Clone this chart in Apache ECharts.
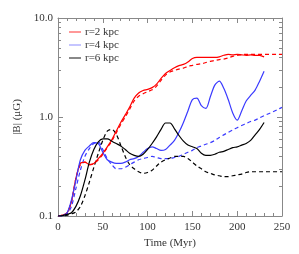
<!DOCTYPE html>
<html><head><meta charset="utf-8">
<script src="https://cdn.jsdelivr.net/npm/echarts@6/dist/echarts.min.js"></script>
<style>html,body{margin:0;padding:0;background:#fff}#c{width:299px;height:254px}</style>
</head><body><div id="c"></div>
<script>
const timeSolid = [0,5,10,15,20,25,30,35,40,45,50,55,60,65,70,75,80,85,90,95,100,105,110,115,120,125,130,135,140,145,150,155,160,165,170,175,180,185,190,195,200,205,210,215,220,225,230];
const timeDashed = [0,5,10,15,20,25,30,35,40,45,50,55,60,65,70,75,80,85,90,95,100,105,110,115,120,125,130,135,140,145,150,155,160,165,170,175,180,185,190,195,200,205,210,215,220,225,230,235,240,245,250];

const r2Solid = [0.100,0.102,0.107,0.14,0.24,0.34,0.35,0.33,0.34,0.38,0.43,0.50,0.59,0.72,0.88,1.05,1.26,1.55,1.75,1.85,1.90,1.98,2.15,2.45,2.75,2.95,3.15,3.3,3.4,3.6,3.9,4.0,4.0,4.0,4.0,4.0,4.05,4.2,4.3,4.25,4.3,4.25,4.2,4.25,4.2,4.2,4.05];
const r2Dashed = [0.100,0.102,0.107,0.14,0.24,0.33,0.35,0.33,0.34,0.37,0.42,0.49,0.57,0.69,0.84,1.0,1.2,1.45,1.62,1.72,1.8,1.88,2.05,2.35,2.65,2.85,2.95,3.05,3.12,3.25,3.32,3.4,3.45,3.55,3.65,3.72,3.8,3.85,3.95,4.1,4.2,4.25,4.3,4.3,4.3,4.3,4.3,4.3,4.3,4.3,4.3];
const r4Solid = [0.100,0.101,0.107,0.145,0.23,0.37,0.46,0.51,0.55,0.54,0.44,0.37,0.35,0.34,0.34,0.35,0.37,0.38,0.40,0.44,0.48,0.50,0.48,0.46,0.47,0.52,0.58,0.70,0.88,1.15,1.5,1.55,1.3,1.22,1.6,2.1,2.3,1.95,1.5,1.1,0.93,1.15,1.45,1.65,1.87,2.3,2.9];
const r4Dashed = [0.100,0.100,0.104,0.125,0.19,0.29,0.40,0.48,0.54,0.56,0.47,0.38,0.33,0.30,0.30,0.31,0.33,0.35,0.37,0.38,0.39,0.40,0.39,0.38,0.38,0.38,0.39,0.40,0.42,0.44,0.46,0.49,0.51,0.53,0.55,0.58,0.62,0.66,0.70,0.74,0.78,0.82,0.86,0.90,0.93,0.98,1.03,1.08,1.13,1.19,1.25];
const r6Solid = [0.100,0.101,0.104,0.108,0.125,0.16,0.23,0.35,0.47,0.56,0.60,0.60,0.57,0.54,0.51,0.47,0.43,0.41,0.40,0.42,0.47,0.54,0.63,0.75,0.87,0.87,0.76,0.65,0.57,0.52,0.50,0.48,0.43,0.41,0.41,0.42,0.44,0.45,0.47,0.49,0.50,0.52,0.54,0.58,0.66,0.75,0.88];
const r6Dashed = [0.100,0.100,0.102,0.105,0.11,0.125,0.16,0.22,0.31,0.43,0.58,0.72,0.75,0.67,0.52,0.40,0.33,0.30,0.28,0.27,0.275,0.29,0.32,0.35,0.37,0.385,0.40,0.40,0.40,0.38,0.35,0.32,0.30,0.28,0.27,0.26,0.255,0.25,0.25,0.255,0.26,0.265,0.275,0.28,0.28,0.28,0.28,0.28,0.28,0.28,0.28];

const seriesNames = ['r=2 kpc','r=4 kpc','r=6 kpc'];
const seriesColors = ['#ff0000','#3a3aff','#000000'];
const legendColors = ['#ff3030','#8a8aff','#111111'];
const yTickLabels = ['0.1','1.0','10.0'];
const yMinorTicks = [0.2,0.3,0.4,0.5,0.6,0.7,0.8,0.9,2,3,4,5,6,7,8,9];
const xName = 'Time (Myr)';
const yName = '|B| (\u03bcG)';

const font = 'Liberation Serif';
const txtColor = '#333';
const axColor = '#888';

function pairs(t, v){ return t.map((x,i)=>[x, v[i]]); }
function line(name, color, t, v, dashed, legColor){
  return {name, type:'line', data:pairs(t,v), smooth:0.3, symbol:'none', xAxisIndex:0, yAxisIndex:0,
    lineStyle:{color, width:1.2, type: dashed?[4,3]:'solid'}, itemStyle:{color: legColor || color}, z: dashed?2:3, silent:true};
}
function yAx(pos, major){
  const o = {type:'log', logBase:10, min:0.1, max:10, position:pos, splitLine:{show:false},
    axisLine:{show:major, lineStyle:{color:axColor, width:1}},
    axisTick:{show:true, inside:true, length: major?5:3, lineStyle:{color:axColor, width:1}},
    axisLabel:{show:false}};
  if(!major){ o.axisTick.customValues = yMinorTicks; }
  return o;
}
const chart = echarts.init(document.getElementById('c'));
chart.setOption({
  animation:false,
  backgroundColor:'#fff',
  grid:{left:58, right:17, top:18, bottom:38, containLabel:false},
  legend:{show:true, orient:'vertical', left:64, top:21, itemWidth:12, itemHeight:8, itemGap:1,
    data:seriesNames, icon:'path://M0,4L12,4L12,5L0,5Z',
    textStyle:{fontFamily:font, fontSize:11, color:txtColor, lineHeight:12, padding:[0,0,0,-1]}},
  xAxis:[
    {type:'value', min:0, max:250, interval:50, position:'bottom', splitLine:{show:false},
      axisLine:{show:true, lineStyle:{color:axColor}},
      axisTick:{inside:true, length:5, lineStyle:{color:axColor}},
      minorTick:{show:true, splitNumber:5, length:3, lineStyle:{color:axColor}},
      axisLabel:{fontFamily:font, fontSize:11, color:txtColor, margin:6},
      name:xName, nameLocation:'middle', nameGap:17, nameTextStyle:{fontFamily:font, fontSize:11, color:txtColor}},
    {type:'value', min:0, max:250, interval:50, position:'top', splitLine:{show:false},
      axisLine:{show:true, lineStyle:{color:axColor}},
      axisTick:{inside:true, length:5, lineStyle:{color:axColor}},
      minorTick:{show:true, splitNumber:5, length:3, lineStyle:{color:axColor}},
      axisLabel:{show:false}}
  ],
  yAxis:[
    Object.assign(yAx('left', true), {
      axisLabel:{show:true, fontFamily:font, fontSize:11, color:txtColor, margin:5,
        formatter: v => yTickLabels[Math.round(Math.log10(v))+1]},
      name:yName, nameLocation:'middle', nameGap:28, nameRotate:90,
      nameTextStyle:{fontFamily:font, fontSize:11, color:txtColor}}),
    yAx('left', false),
    yAx('right', true),
    yAx('right', false)
  ],
  series:[
    line(seriesNames[0], seriesColors[0], timeSolid, r2Solid, false, legendColors[0]),
    line(seriesNames[1], seriesColors[1], timeSolid, r4Solid, false, legendColors[1]),
    line(seriesNames[2], seriesColors[2], timeSolid, r6Solid, false, legendColors[2]),
    line(seriesNames[0], seriesColors[0], timeDashed, r2Dashed, true),
    line(seriesNames[1], seriesColors[1], timeDashed, r4Dashed, true),
    line(seriesNames[2], seriesColors[2], timeDashed, r6Dashed, true)
  ]
});
</script></body></html>
